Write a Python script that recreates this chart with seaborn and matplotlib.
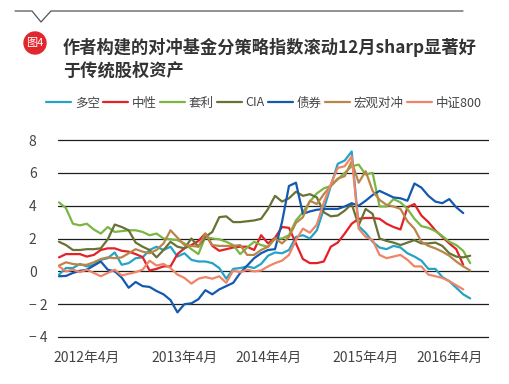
import numpy as np
import pandas as pd
import matplotlib
matplotlib.use("Agg")
import matplotlib.pyplot as plt
import seaborn as sns
from matplotlib.lines import Line2D
from matplotlib.patches import Ellipse

nan = np.nan

series_names = ["多空", "中性", "套利", "CIA", "债券", "宏观对冲", "中证800"]
colors = ["#25a3c4", "#e32127", "#79b642", "#687234", "#1359b0", "#b98549", "#ef8468"]
tick_labels = ["2012年4月", "2013年4月", "2014年4月", "2015年4月", "2016年4月"]
tick_index = [4, 18, 30, 44, 56]
y_ticks = [-4, -2, 0, 2, 4, 6, 8]
y_tick_labels = ["\u2212 4", "\u2212 2", "0", "2", "4", "6", "8"]

duokong = [-0.2, 0.2, 0.2, 0.45, 0.3, 0.4, 0.7, 0.8, 1.15, 0.4,
           0.5, 0.8, 0.85, 1.3, 1.5, 1.3, 1.5, 0.9, 1.1, 0.7,
           0.6, 0.6, 0.5, 0.2, -0.45, 0.15, 0.2, 0.3, 0.2, 0.45,
           0.95, 1.15, 1.1, 1.3, 2.1, 2.2, 2.0, 2.5, 3.8, 5.2,
           6.55, 6.75, 7.3, 2.75, 2.35, 1.8, 1.45, 1.35, 1.55, 1.45,
           1.1, 0.9, 0.65, 0.15, 0.15, -0.35, -0.6, -1.0, -1.4, -1.65]
zhongxing = [0.85, 1.05, 1.05, 1.05, 0.9, 1.0, 1.3, 1.4, 1.4, 1.25,
             1.2, 1.05, 0.87, 0.05, 0.15, 0.3, 0.3, 1.05, 1.4, 1.6,
             1.85, 2.3, 1.55, 1.25, 1.35, 1.45, 1.5, 1.5, 1.3, 2.2,
             1.7, 2.05, 2.7, 2.65, 1.7, 0.75, 0.5, 0.5, 0.6, 1.5,
             1.75, 2.3, 2.9, 3.2, 3.25, 3.25, 3.2, 2.9, 2.7, 2.55,
             3.9, 4.1, 3.4, 3.0, 2.5, 2.1, 1.7, 1.35, 0.4, nan]
taoli = [4.2, 3.85, 2.9, 2.8, 2.9, 2.55, 2.3, 2.7, 2.4, 2.45,
         2.5, 2.5, 2.4, 2.2, 2.3, 2.0, 1.95, 1.9, 1.7, 1.35,
         1.05, 2.1, 2.0, 1.95, 1.8, 1.6, 1.05, 1.45, 1.8, 1.6,
         1.5, 2.0, 2.0, 2.2, 3.1, 3.6, 4.25, 4.75, 5.05, 5.2,
         5.6, 6.0, 6.4, 6.5, 5.9, 6.0, 3.95, 3.95, 4.4, 4.2,
         3.8, 3.2, 2.75, 2.65, 2.45, 2.15, 1.8, 1.6, 1.25, 0.5]
cia = [1.8, 1.6, 1.3, 1.3, 1.35, 1.35, 1.4, 1.95, 2.85, 2.7,
       2.5, 1.75, 1.5, 1.3, 0.85, 1.3, 1.8, 1.5, 1.4, 2.0,
       1.5, 2.1, 2.4, 3.3, 3.35, 3.0, 3.0, 3.05, 3.1, 3.2,
       3.8, 4.6, 4.25, 4.45, 4.85, 4.6, 4.7, 4.5, 3.6, 3.35,
       3.4, 3.7, 4.1, 2.8, 3.8, 3.5, 2.0, 1.85, 1.75, 1.6,
       1.75, 1.9, 1.7, 1.7, 1.75, 1.55, 1.1, 0.9, 0.85, 0.95]
zhaiquan = [-0.3, -0.28, -0.1, 0.03, 0.1, 0.35, 0.6, 0.1, 0.0, -0.38,
            -1.0, -0.65, -0.9, -0.95, -1.2, -1.4, -1.75, -2.5, -2.0, -1.95,
            -1.7, -1.15, -1.4, -1.1, -0.9, -0.7, -0.1, 0.35, 0.8, 1.1,
            1.3, 1.35, 3.0, 5.2, 5.4, 3.5, 3.65, 3.75, 3.8, 3.8,
            3.8, 3.95, 4.15, 4.0, 4.3, 4.65, 4.9, 4.7, 4.5, 4.45,
            4.3, 5.35, 5.1, 4.6, 4.25, 4.15, 4.4, 3.9, 3.55, nan]
hongguan = [0.35, 0.55, 0.45, 0.4, 0.4, 0.55, 0.75, 0.85, 0.8, 0.85,
            1.1, 1.35, 1.2, 1.1, 1.3, 1.7, 2.5, 2.05, 1.6, 1.55,
            1.5, 2.3, 1.6, 1.55, 1.55, 1.55, 1.6, 1.0, 1.0, 1.3,
            1.5, 2.0, 1.7, 2.1, 2.95, 3.3, 4.3, 4.1, 4.7, 5.2,
            5.65, 5.8, 6.7, 5.4, 6.1, 4.9, 4.35, 4.05, 3.95, 3.8,
            3.05, 2.6, 1.8, 1.55, 1.4, 1.2, 0.95, 0.6, 0.3, 0.05]
zz800 = [0.3, 0.0, 0.1, -0.05, 0.1, -0.1, -0.3, -0.1, 0.1, -0.25,
         -0.15, -0.05, 0.1, 0.65, 0.35, 0.45, 0.2, -0.2, -0.4, -0.75,
         -0.45, -0.35, -0.45, -0.3, -0.7, 0.05, -0.05, 0.1, 0.0, 0.05,
         0.3, 0.5, 0.65, 1.0, 1.9, 2.6, 2.35, 2.85, 4.2, 5.3,
         6.3, 6.4, 7.0, 2.6, 2.1, 1.9, 1.0, 0.8, 0.9, 1.0,
         0.7, 0.3, 0.3, -0.2, -0.3, -0.4, -0.6, -0.85, -1.1, nan]

all_series = [duokong, zhongxing, taoli, cia, zhaiquan, hongguan, zz800]
frames = []
for name, vals in zip(series_names, all_series):
    frames.append(pd.DataFrame({"idx": np.arange(len(vals)), "value": vals, "series": name}))
df = pd.concat(frames, ignore_index=True).dropna()

sns.set_style("white")
plt.rcParams["font.family"] = ["Noto Sans CJK SC", "DejaVu Sans"]
plt.rcParams["axes.unicode_minus"] = False

W, H = 509, 384
fig = plt.figure(figsize=(W / 100, H / 100), dpi=100)
pad_u = 0.1
px_per_u = 197 / 12
ax = fig.add_axes([58 / W, (47 - pad_u * px_per_u) / H, 431 / W,
                   (197 + 2 * pad_u * px_per_u) / H])

sns.lineplot(data=df, x="idx", y="value", hue="series", hue_order=series_names,
             palette=colors, linewidth=1.6, ax=ax, legend=True)
handles, labels = ax.get_legend_handles_labels()
ax.get_legend().remove()

ax.set_xlim(-0.14, 61.7)
ax.set_ylim(-4 - pad_u, 8 + pad_u)
ax.set_yticks(y_ticks)
ax.set_yticklabels(y_tick_labels)
ax.set_xticks(tick_index)
ax.set_xticklabels(tick_labels)
ax.set_xlabel("")
ax.set_ylabel("")
ax.grid(axis="y", color="#1e1e1e", linewidth=0.9)
ax.grid(axis="x", visible=False)
for s in ax.spines.values():
    s.set_visible(False)
ax.tick_params(axis="y", length=0, pad=21, labelsize=10, labelcolor="#444444")
ax.tick_params(axis="x", length=0, pad=9, labelsize=10, labelcolor="#444444")
for lab in ax.get_yticklabels():
    lab.set_horizontalalignment("left")

fig.legend(handles, labels, loc="center", bbox_to_anchor=(264 / W, 1 - 103 / H),
           ncol=7, frameon=False, fontsize=9, handlelength=2.0,
           handletextpad=0.3, columnspacing=0.25, labelcolor="#444444")

# header decoration
xs = np.array([15, 32, 41, 51, 463]) / W
ys = 1 - np.array([11, 11, 22, 11, 11]) / H
fig.add_artist(Line2D(xs, ys, color="#555555", linewidth=0.9, transform=fig.transFigure))
fig.add_artist(Ellipse((35 / W, 1 - 43 / H), 22 / W, 22 / H, color="#e1272d",
                       transform=fig.transFigure))
fig.text(35 / W, 1 - 43 / H, "图4", color="white", fontsize=8, ha="center", va="center")
fig.text(63 / W, 1 - 47 / H, "作者构建的对冲基金分策略指数滚动12月sharp显著好",
         fontsize=12.4, fontweight="bold", color="#333333", va="center")
fig.text(63 / W, 1 - 71 / H, "于传统股权资产",
         fontsize=12.4, fontweight="bold", color="#333333", va="center")

fig.savefig("out.png", dpi=100)
